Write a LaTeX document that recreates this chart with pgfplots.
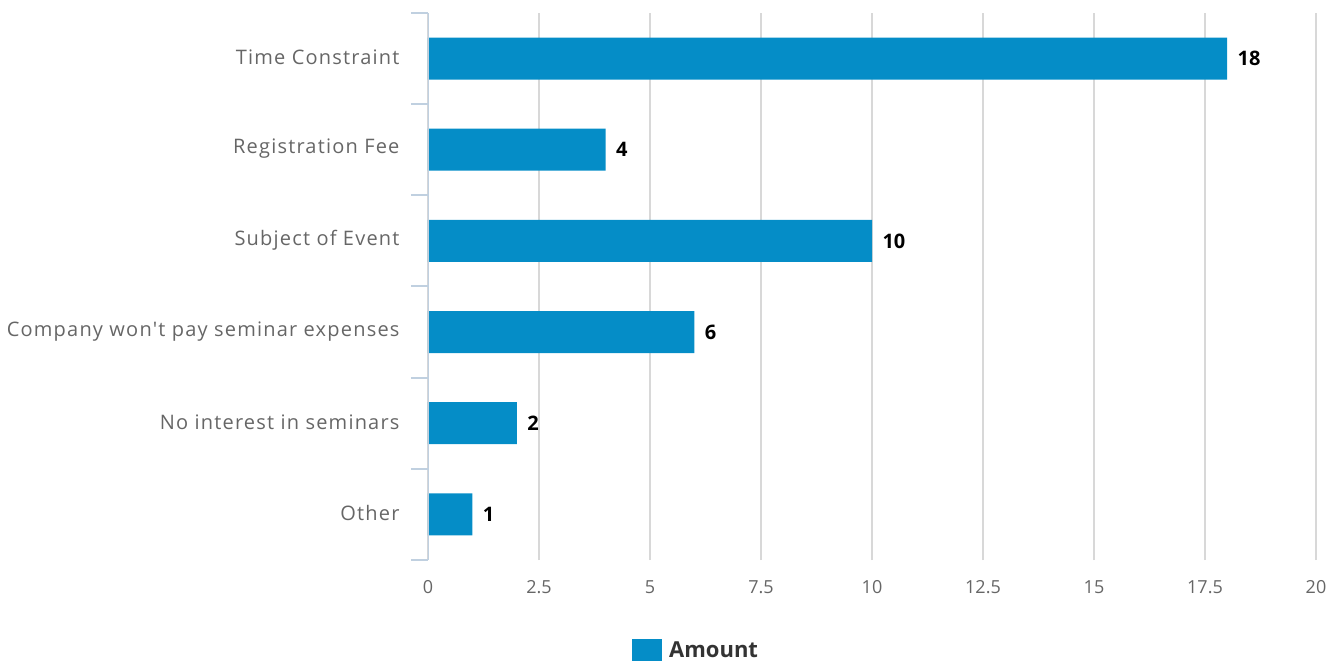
\documentclass[border=0pt]{standalone}
\usepackage{fontspec}
\setmainfont{Open Sans}
\newfontfamily\catfont[LetterSpace=6]{Open Sans}
\usepackage{pgfplots}
\pgfplotsset{compat=1.18}
\definecolor{barblue}{HTML}{058DC7}
\definecolor{gridc}{HTML}{D8D8D8}
\definecolor{axc}{HTML}{C0D0E0}
\definecolor{labc}{HTML}{666666}
\definecolor{legc}{HTML}{333333}
\begin{document}
\begin{tikzpicture}
\path[use as bounding box] (-428bp,-101bp) rectangle (908bp,560bp);
\begin{axis}[
  at={(0,0)}, anchor=south west,
  scale only axis, width=888bp, height=547bp,
  xbar, bar width=42bp,
  xmin=0, xmax=20, ymin=-0.5, ymax=5.5,
  xtick={0,2.5,...,20},
  xticklabels={0,2.5,5,7.5,10,12.5,15,17.5,20},
  ytick={0,...,5},
  yticklabels={Other,No interest in seminars,Company won't pay seminar expenses,Subject of Event,Registration Fee,Time Constraint},
  minor ytick={-0.5,0.5,...,5.5},
  major tick length=0pt,
  minor tick length=17bp,
  tick align=outside,
  ytick pos=left, xtick pos=bottom,
  minor tick style={axc, line width=2bp},
  axis line style={draw=none},
  xmajorgrids, grid style={gridc, line width=2bp},
  /pgf/number format/assume math mode=true,
  xticklabel style={font=\fontsize{18bp}{21bp}\selectfont, text=labc, yshift=-17bp},
  yticklabel style={font=\catfont\fontsize{20bp}{23bp}\selectfont, text=labc, xshift=-25bp, yshift=1bp},
  nodes near coords,
  nodes near coords style={font=\bfseries\fontsize{20bp}{23bp}\selectfont, text=black, anchor=west, xshift=7bp},
  legend style={at={(0.2297,-0.1645)}, anchor=west, draw=none, fill=none, inner sep=0pt,
    font=\bfseries\fontsize{22bp}{26bp}\selectfont, text=legc},
  legend image code/.code={\fill[barblue] (0bp,-11bp) rectangle (30bp,11bp); \path (35bp,0bp);},
]
\addplot[fill=barblue, draw=none] coordinates {(1,0) (2,1) (6,2) (10,3) (4,4) (18,5)};
\addlegendentry{Amount}
\draw[axc, line width=2bp] (axis cs:0,-0.5) -- (axis cs:0,5.5);
\end{axis}
\end{tikzpicture}
\end{document}
